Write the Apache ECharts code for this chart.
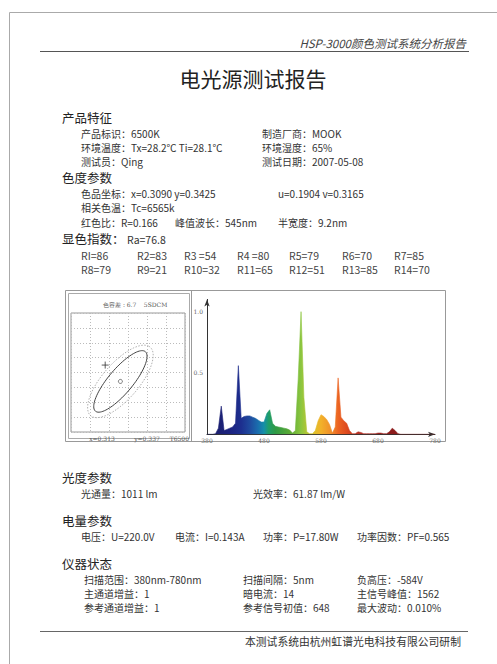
<!DOCTYPE html>
<html>
<head>
<meta charset="utf-8">
<script src="https://cdn.jsdelivr.net/npm/echarts@6/dist/echarts.min.js"></script>
<style>
  html, body { margin: 0; padding: 0; background: #fff; }
  #chart { width: 497px; height: 664px; }
</style>
</head>
<body>
<div id="chart"></div>
<script>
// 报告文字
const reportHeader = 'HSP-3000颜色测试系统分析报告';
const reportTitle = '电光源测试报告';
const sectionTitles = ['产品特征', '色度参数', '显色指数：', '光度参数', '电量参数', '仪器状态'];
const productItems = [
  ['产品标识：6500K', '制造厂商：MOOK'],
  ['环境温度：Tx=28.2℃ Ti=28.1℃', '环境湿度：65%'],
  ['测试员：Qing', '测试日期：2007-05-08']
];
const colorItems = [
  ['色品坐标：x=0.3090 y=0.3425', 'u=0.1904 v=0.3165'],
  ['相关色温：Tc=6565k'],
  ['红色比：R=0.166', '峰值波长：545nm', '半宽度：9.2nm']
];
const raText = 'Ra=76.8';
const criNames = ['RI', 'R2', 'R3 ', 'R4 ', 'R5', 'R6', 'R7', 'R8', 'R9', 'R10', 'R11', 'R12', 'R13', 'R14'];
const criValues = [86, 83, 54, 80, 79, 70, 85, 79, 21, 32, 65, 51, 85, 70];
const photoItems = [['光通量：1011 lm', '光效率：61.87 lm/W']];
const electricItems = [['电压：U=220.0V', '电流：I=0.143A', '功率：P=17.80W', '功率因数：PF=0.565']];
const instrumentItems = [
  ['扫描范围：380nm-780nm', '扫描间隔：5nm', '负高压：-584V'],
  ['主通道增益：1', '暗电流：14', '主信号峰值：1562'],
  ['参考通道增益：1', '参考信号初值：648', '最大波动：0.010%']
];
const footerText = '本测试系统由杭州虹谱光电科技有限公司研制';

// 色容差图
const tolTitle = '色容差：6.7    5SDCM';
const targetPoint = [0.313, 0.337];   // T6500 标准点
const targetName = 'T6500';
const measuredPoint = [0.3090, 0.3425];
// [cx, cy, 长半轴, 短半轴, 角度]
const ellipseInner = [0.313, 0.337, 0.0120, 0.0035, 58];
const ellipseOuter = [0.313, 0.337, 0.0140, 0.0052, 58];

// 光谱 380-780nm，5nm 间隔
const wavelengths = [380, 385, 390, 395, 400, 405, 410, 415, 420, 425, 430, 435, 440, 445, 450, 455, 460, 465, 470, 475,
  480, 485, 490, 495, 500, 505, 510, 515, 520, 525, 530, 535, 540, 545, 550, 555, 560, 565, 570, 575,
  580, 585, 590, 595, 600, 605, 610, 615, 620, 625, 630, 635, 640, 645, 650, 655, 660, 665, 670, 675,
  680, 685, 690, 695, 700, 705, 710, 715, 720, 725, 730, 735, 740, 745, 750, 755, 760, 765, 770, 775, 780];
const spectrum = [0, 0, 0, 0.005, 0.05, 0.23, 0.03, 0.04, 0.05, 0.06, 0.09, 0.56, 0.13, 0.145, 0.15, 0.15, 0.14, 0.13, 0.115, 0.10,
  0.10, 0.17, 0.20, 0.09, 0.065, 0.06, 0.055, 0.05, 0.045, 0.035, 0.01, 0.03, 0.45, 1.0, 0.30, 0.02, 0.005, 0.005, 0.03, 0.11,
  0.16, 0.145, 0.12, 0.08, 0.01, 0.06, 0.46, 0.14, 0.11, 0.09, 0.03, 0.005, 0.005, 0.02, 0.015, 0.005, 0.005, 0.005, 0.005, 0.005,
  0.01, 0.01, 0.005, 0.005, 0.02, 0.05, 0.03, 0.005, 0, 0, 0, 0, 0, 0, 0, 0, 0, 0, 0, 0, 0];
const xTicks = [380, 480, 580, 680, 780];

const CJK = '"Noto Sans CJK SC", "Noto Sans", sans-serif';
const SERIF = '"DejaVu Serif", "Liberation Serif", serif';

function txt(x, y, s, size, color, extra) {
  return Object.assign({
    type: 'text', x: x, y: y,
    style: {
      text: s, font: size + 'px ' + CJK, fill: color || '#333',
      textAlign: 'left', align: 'left', textVerticalAlign: 'middle', verticalAlign: 'middle'
    }
  }, extra || {});
}
function small(x, y, s, align) {
  return {
    type: 'text', x: x, y: y,
    style: {
      text: s, font: '6px ' + SERIF, fill: '#555',
      textAlign: align || 'center', align: align || 'center',
      textVerticalAlign: 'middle', verticalAlign: 'middle'
    }
  };
}
function rowTexts(items, cols, ys) {
  const out = [];
  items.forEach((row, r) => row.forEach((s, c) => out.push(txt(cols[c], ys[r], s, 10, '#333'))));
  return out;
}
function line(x1, y1, x2, y2, color) {
  return { type: 'line', shape: { x1: x1, y1: y1, x2: x2, y2: y2 }, style: { stroke: color || '#999', lineWidth: 1 } };
}

const graphics = [];
// 页面边框与页眉
graphics.push(line(9.5, 12.5, 497, 12.5, '#aaa'));
graphics.push(line(9.5, 12.5, 9.5, 664, '#aaa'));
graphics.push(line(40, 51.5, 469, 51.5, '#555'));
graphics.push({
  type: 'text', x: 466, y: 43,
  style: { text: reportHeader, font: 'italic 11.5px ' + CJK, fill: '#444', textAlign: 'right', align: 'right', textVerticalAlign: 'middle', verticalAlign: 'middle' }
});
graphics.push({
  type: 'text', x: 253, y: 78,
  style: { text: reportTitle, font: '21px ' + CJK, fill: '#222', textAlign: 'center', align: 'center', textVerticalAlign: 'middle', verticalAlign: 'middle' }
});

// 各栏标题
const sectionY = [117, 177, 238, 477, 520, 563];
sectionTitles.forEach((s, i) => graphics.push(txt(62, sectionY[i], s, 12.5, '#222')));
graphics.push(txt(127, 239, raText, 10.5, '#333'));

graphics.push(...rowTexts(productItems, [81, 262], [133, 147, 161]));
graphics.push(...rowTexts(colorItems.slice(0, 1), [81, 278], [193]));
graphics.push(...rowTexts(colorItems.slice(1, 2), [81], [207]));
graphics.push(...rowTexts(colorItems.slice(2, 3), [81, 175, 278], [222]));

const criCols = [81, 137, 184, 237, 289, 342, 394];
criNames.forEach((n, i) => {
  graphics.push(txt(criCols[i % 7], i < 7 ? 255 : 269, n + '=' + criValues[i], 10.5, '#444'));
});

graphics.push(...rowTexts(photoItems, [81, 253], [493]));
graphics.push(...rowTexts(electricItems, [81, 175, 263, 357], [536]));
graphics.push(...rowTexts(instrumentItems, [84, 243, 357], [579, 593, 607]));

graphics.push(line(40, 631.5, 468, 631.5, '#666'));
graphics.push(txt(245, 641, footerText, 10.8, '#333'));

// 图框
graphics.push({ type: 'rect', shape: { x: 65.5, y: 290.5, width: 380, height: 151 }, style: { fill: 'none', stroke: '#999', lineWidth: 1 } });
graphics.push({ type: 'rect', shape: { x: 68.5, y: 293.5, width: 121, height: 145 }, style: { fill: 'none', stroke: '#aaa', lineWidth: 1 } });
graphics.push(line(191.5, 290.5, 191.5, 441.5, '#999'));
graphics.push(small(135, 304, tolTitle));
graphics.push(small(102, 438, 'x=' + targetPoint[0].toFixed(3)));
graphics.push(small(147, 438, 'y=' + targetPoint[1].toFixed(3)));
graphics.push(small(189, 438, targetName, 'right'));

function ellipsePoints(params, api) {
  const cx = params[0], cy = params[1], a = params[2], b = params[3];
  const th = params[4] * Math.PI / 180;
  const pts = [];
  for (let k = 0; k <= 90; k++) {
    const t = 2 * Math.PI * k / 90;
    const dx = a * Math.cos(t) * Math.cos(th) - b * Math.sin(t) * Math.sin(th);
    const dy = a * Math.cos(t) * Math.sin(th) + b * Math.sin(t) * Math.cos(th);
    pts.push(api.coord([cx + dx, cy + dy]));
  }
  return pts;
}

const spectrumColors = new echarts.graphic.LinearGradient(0, 0, 1, 0, [
  { offset: 0.0375, color: '#1b1f6e' },
  { offset: 0.10, color: '#1c2380' },
  { offset: 0.15, color: '#1d2f8f' },
  { offset: 0.1875, color: '#1f4a9e' },
  { offset: 0.225, color: '#1a6fae' },
  { offset: 0.25, color: '#158fa8' },
  { offset: 0.27, color: '#1f9d6a' },
  { offset: 0.30, color: '#2f9a45' },
  { offset: 0.3625, color: '#5aa935' },
  { offset: 0.4125, color: '#8cc63f' },
  { offset: 0.4625, color: '#d9c52a' },
  { offset: 0.50, color: '#f2b12a' },
  { offset: 0.5425, color: '#f0902a' },
  { offset: 0.575, color: '#ec6422' },
  { offset: 0.6125, color: '#de4a1e' },
  { offset: 0.6625, color: '#b83226' },
  { offset: 0.80, color: '#8e1c1c' },
  { offset: 1, color: '#7a1515' }
]);

const myChart = echarts.init(document.getElementById('chart'), null, { renderer: 'svg' });

const option = {
  animation: false,
  backgroundColor: '#fff',
  grid: [
    { left: 71, top: 313, width: 114, height: 119, show: true, borderColor: '#999', borderWidth: 1 },
    { left: 207, top: 299.4, width: 228, height: 134.9 }
  ],
  xAxis: [
    {
      gridIndex: 0, type: 'value', min: 0.300, max: 0.330, interval: 0.005,
      axisLine: { show: false }, axisTick: { show: false }, axisLabel: { show: false },
      splitLine: { show: true, lineStyle: { color: '#bbb', type: [1, 2], width: 1 } }
    },
    {
      gridIndex: 1, type: 'value', min: 380, max: 780, interval: 100,
      axisLine: { show: true, symbol: ['none', 'arrow'], symbolSize: [4, 7], lineStyle: { color: '#333', width: 1 } },
      axisTick: { show: false },
      axisLabel: {
        margin: 3, color: '#666', fontSize: 6, fontFamily: SERIF,
        customValues: xTicks
      },
      splitLine: { show: false }
    }
  ],
  yAxis: [
    {
      gridIndex: 0, type: 'value', min: 0.320, max: 0.360, interval: 0.005,
      axisLine: { show: false }, axisTick: { show: false }, axisLabel: { show: false },
      splitLine: { show: true, lineStyle: { color: '#bbb', type: [1, 2], width: 1 } }
    },
    {
      gridIndex: 1, type: 'value', min: 0, max: 1.1, interval: 0.5,
      axisLine: { show: true, symbol: ['none', 'arrow'], symbolSize: [4, 7], lineStyle: { color: '#333', width: 1 } },
      axisTick: { show: false },
      axisLabel: {
        margin: 4, color: '#666', fontSize: 6, fontFamily: SERIF, showMaxLabel: false,
        formatter: v => (v > 0 && v <= 1 ? v.toFixed(1) : '')
      },
      splitLine: { show: false }
    }
  ],
  series: [
    {
      type: 'custom', xAxisIndex: 0, yAxisIndex: 0, data: [ellipseOuter], silent: true,
      renderItem: (p, api) => ({
        type: 'polyline', shape: { points: ellipsePoints(ellipseOuter, api) },
        style: { fill: 'none', stroke: '#999', lineWidth: 0.8, lineDash: [1.5, 1.5] }
      })
    },
    {
      type: 'custom', xAxisIndex: 0, yAxisIndex: 0, data: [ellipseInner], silent: true,
      renderItem: (p, api) => ({
        type: 'polyline', shape: { points: ellipsePoints(ellipseInner, api) },
        style: { fill: 'none', stroke: '#444', lineWidth: 1 }
      })
    },
    {
      type: 'scatter', xAxisIndex: 0, yAxisIndex: 0, data: [targetPoint],
      symbol: 'circle', symbolSize: 4,
      itemStyle: { color: 'rgba(0,0,0,0)', borderColor: '#555', borderWidth: 1 }
    },
    {
      type: 'scatter', xAxisIndex: 0, yAxisIndex: 0, data: [measuredPoint],
      symbol: 'path://M0,4L8,4M4,0L4,8', symbolSize: 7,
      itemStyle: { color: 'rgba(0,0,0,0)', borderColor: '#333', borderWidth: 1 }
    },
    {
      type: 'line', xAxisIndex: 1, yAxisIndex: 1,
      data: wavelengths.map((w, i) => [w, spectrum[i]]),
      symbol: 'none', smooth: false,
      lineStyle: { width: 0.6, color: spectrumColors },
      areaStyle: { color: spectrumColors, opacity: 1 }
    }
  ],
  graphic: { elements: graphics }
};
myChart.setOption(option);
</script>
</body>
</html>
